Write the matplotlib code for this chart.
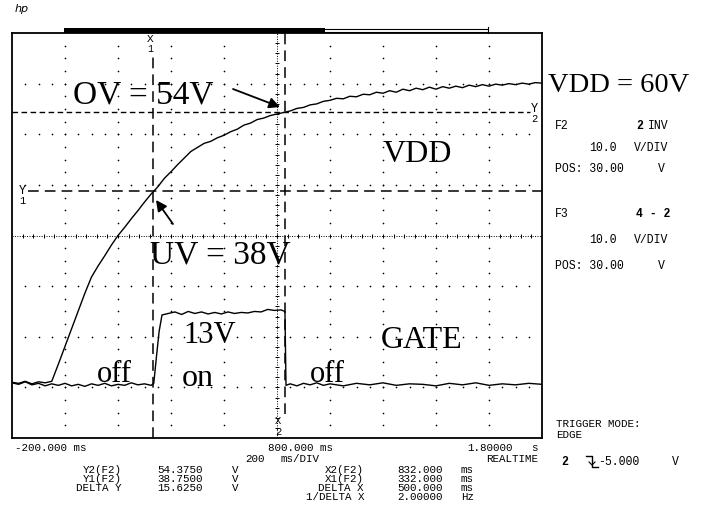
import matplotlib
matplotlib.use('Agg')
import matplotlib.pyplot as plt
from matplotlib.patches import Rectangle
from matplotlib.lines import Line2D
import numpy as np

W, H = 701, 515

# scope settings
t_left, t_right = -200, 1800        # ms, 200 ms/DIV
v_bottom, v_top = -10, 70           # V, 10 V/DIV, POS 30 V
t_div, v_div = 200, 10

# cursor readouts
x1_ms, x2_ms = 332.0, 832.0
y1_v, y2_v = 38.75, 54.375

# VDD trace (ms, V)
vdd_t = [-200, -175, -150, -125, -100, -75, -50, -25, 0, 25, 50, 75, 100,
         125, 150, 175, 200, 225, 250, 275, 300, 325, 350, 375, 400, 425,
         450, 475, 500, 525, 550, 575, 600, 625, 650, 675, 700, 725, 750,
         775, 800, 825, 850, 875, 900, 925, 950, 975, 1000, 1025, 1050,
         1075, 1100, 1125, 1150, 1175, 1200, 1225, 1250, 1275, 1300, 1325,
         1350, 1375, 1400, 1425, 1450, 1475, 1500, 1525, 1550, 1575, 1600,
         1625, 1650, 1675, 1700, 1725, 1750, 1775, 1800]
vdd_v = [1.0, 0.8, 1.2, 0.7, 1.1, 0.9, 1.2, 4.6, 8.1, 11.6, 15.1, 18.6, 21.8,
         24.0, 26.0, 28.1, 30.0, 31.6, 33.3, 34.9, 36.6, 38.2, 39.6, 41.3,
         42.6, 44.0, 45.3, 46.6, 47.4, 48.2, 48.6, 49.3, 49.8, 50.5, 51.0,
         51.8, 52.2, 52.9, 53.2, 53.7, 54.0, 54.3, 54.6, 55.1, 55.3, 55.8,
         56.0, 56.5, 56.7, 57.1, 57.0, 57.5, 57.4, 57.9, 57.8, 58.3, 58.1,
         58.6, 58.3, 58.9, 58.6, 59.1, 58.8, 59.3, 58.9, 59.4, 59.1, 59.5,
         59.2, 59.7, 59.4, 59.8, 59.5, 59.9, 59.7, 60.0, 59.8, 60.1, 59.9,
         60.2, 60.1]

# GATE trace (ms, V)
gate_t = [-200, -175, -150, -125, -100, -75, -50, -25, 0, 25, 50, 75, 100,
          125, 150, 175, 200, 225, 250, 275, 300, 325, 335, 345, 355, 366,
          390, 415, 440, 465, 490, 515, 540, 565, 590, 615, 640, 665, 690,
          715, 740, 765, 790, 815, 830, 834, 850, 875, 900, 925, 950, 975,
          1000, 1050, 1100, 1150, 1200, 1250, 1300, 1350, 1400, 1450, 1500,
          1550, 1600, 1650, 1700, 1750, 1800]
gate_v = [0.9, 0.6, 1.1, 0.5, 0.8, 0.3, 0.7, 0.4, 0.8, 0.3, 0.6, 0.2, 0.7,
          0.4, 0.8, 0.3, 0.6, 0.4, 0.9, 0.5, 0.7, 0.4, 0.8, 6.0, 11.0, 14.3,
          14.6, 14.9, 14.4, 15.0, 14.6, 14.9, 14.5, 14.8, 14.5, 14.9, 14.6,
          14.8, 14.7, 15.0, 14.9, 15.4, 15.2, 15.3, 15.0, 0.4, 0.7, 0.3, 0.8,
          0.5, 0.9, 0.4, 0.7, 0.3, 0.8, 0.5, 0.9, 0.4, 0.7, 0.6, 0.3, 0.8,
          0.5, 0.9, 0.4, 0.7, 0.5, 0.8, 0.6]

# readout table under the screen
left_names = ['Y2(F2)', 'Y1(F2)', 'DELTA Y']
left_vals = ['54.3750', '38.7500', '15.6250']
right_names = ['X2(F2)', 'X1(F2)', 'DELTA X', '1/DELTA X']
right_vals = ['832.000', '332.000', '500.000', '2.00000']
right_units = ['ms', 'ms', 'ms', 'Hz']


def fx(x):
    return x / W


def fy(y):
    return 1 - y / H


fig = plt.figure(figsize=(W / 100, H / 100), dpi=100)
fig.patch.set_facecolor('white')

# screen area in pixels: x 12..542, y 33..438
ax = fig.add_axes([fx(12), fy(438), (542 - 12) / W, (438 - 33) / H])
ax.set_xlim(t_left, t_right)
ax.set_ylim(v_bottom, v_top)
ax.set_xticks([])
ax.set_yticks([])
for s in ax.spines.values():
    s.set_linewidth(1.3)
    s.set_color('black')

# dotted graticule
t_major = np.arange(t_left + t_div, t_right, t_div)
v_major = np.arange(v_bottom + v_div, v_top, v_div)
t_mid = (t_left + t_right) / 2
v_mid = (v_bottom + v_top) / 2
v_dots = np.arange(v_bottom, v_top + 0.1, v_div / 4)[1:-1]
t_dots = np.arange(t_left, t_right + 1, t_div / 4)[1:-1]
for t in t_major:
    if t == t_mid:
        continue
    ax.plot(np.full_like(v_dots, t), v_dots, ls='none', marker='o',
            ms=1.2, mfc='black', mec='none')
for v in v_major:
    if v == v_mid:
        continue
    ax.plot(t_dots, np.full_like(t_dots, v), ls='none', marker='o',
            ms=1.2, mfc='black', mec='none')

# centre axes with minor ticks
ax.axhline(v_mid, color='black', lw=0.7, ls=(0, (1, 1.5)))
ax.axvline(t_mid, color='black', lw=0.7, ls=(0, (1, 1.5)))
tick_t = np.arange(t_left, t_right + 1, t_div / 5)[1:-1]
tick_v = np.arange(v_bottom, v_top + 0.1, v_div / 5)[1:-1]
ax.plot(tick_t, np.full_like(tick_t, v_mid), ls='none', marker='|',
        ms=3, mew=0.7, color='black')
ax.plot(np.full_like(tick_v, t_mid), tick_v, ls='none', marker='_',
        ms=3, mew=0.7, color='black')

# cursors
ax.plot([x1_ms, x1_ms], [v_bottom, 65.5], color='black', lw=1.1,
        ls=(0, (7, 4)))
ax.plot([x2_ms, x2_ms], [-5.3, v_top], color='black', lw=1.1,
        ls=(0, (7, 4)))
ax.plot([-140, t_right], [y1_v, y1_v], color='black', lw=1.1,
        ls=(0, (7, 4)))
ax.plot([t_left, 1755], [y2_v, y2_v], color='black', lw=1.0,
        ls=(0, (4, 2.5)))

# traces
ax.plot(vdd_t, vdd_v, color='black', lw=1.0)
ax.plot(gate_t, gate_v, color='black', lw=1.0)

# cursor labels
mono = 'Liberation Mono'
fig.text(fx(150), fy(39), 'X', family=mono, fontsize=8, ha='center', va='center')
fig.text(fx(150), fy(49.5), '1', family=mono, fontsize=7, ha='center', va='center')
fig.text(fx(278), fy(421), 'X', family=mono, fontsize=7.5, ha='center', va='center')
fig.text(fx(278), fy(432), '2', family=mono, fontsize=7.5, ha='center', va='center')
fig.text(fx(22), fy(191), 'Y', family=mono, fontsize=8.5, ha='center', va='center')
fig.text(fx(22), fy(201), '1', family=mono, fontsize=7.5, ha='center', va='center')
fig.text(fx(534), fy(109), 'Y', family=mono, fontsize=8.5, ha='center', va='center')
fig.text(fx(534), fy(119), '2', family=mono, fontsize=7.5, ha='center', va='center')

# hand-written style annotations
serif = 'Liberation Serif'
fig.text(fx(73), fy(103), 'OV = 54V', family=serif, fontsize=24, va='baseline')
fig.text(fx(548), fy(92), 'VDD = 60V', family=serif, fontsize=20.5, va='baseline')
fig.text(fx(383), fy(162), 'VDD', family=serif, fontsize=23, va='baseline')
fig.text(fx(150), fy(263), 'UV = 38V', family=serif, fontsize=24, va='baseline')
fig.text(fx(183), fy(343), '13V', family=serif, fontsize=22, va='baseline')
fig.text(fx(182), fy(386), 'on', family=serif, fontsize=23, va='baseline')
fig.text(fx(97), fy(382), 'off', family=serif, fontsize=22, va='baseline')
fig.text(fx(310), fy(382), 'off', family=serif, fontsize=22, va='baseline')
fig.text(fx(381), fy(348), 'GATE', family=serif, fontsize=23, va='baseline')

arrow = dict(arrowstyle='-|>', lw=1.3, color='black', mutation_scale=16,
             shrinkA=0, shrinkB=0)
ax.annotate('', xy=(280, H - 107), xytext=(233, H - 89),
            xycoords='figure pixels', textcoords='figure pixels',
            arrowprops=arrow)
ax.annotate('', xy=(156, H - 200), xytext=(173, H - 224),
            xycoords='figure pixels', textcoords='figure pixels',
            arrowprops=arrow)

# record-length bar above the screen
fig.add_artist(Rectangle((fx(64), fy(33)), (325 - 64) / W, 5 / H,
                         transform=fig.transFigure, color='black', lw=0))
for yy in (29, 32):
    fig.add_artist(Line2D([fx(325), fx(488)], [fy(yy), fy(yy)],
                          transform=fig.transFigure, color='black', lw=0.8))
fig.add_artist(Line2D([fx(488), fx(488)], [fy(27), fy(33)],
                      transform=fig.transFigure, color='black', lw=0.8))

fig.text(fx(15), fy(9), 'hp', fontsize=8, style='italic', va='center')

# readouts below the screen
fs = 7.8
def txt(x, y, s, ha='left', size=fs, **kw):
    fig.text(fx(x), fy(y), s, family=mono, fontsize=size, ha=ha, va='center', **kw)

txt(15, 448, '-200.000 ms')
txt(268, 448, '800.000 ms')
txt(513, 448, '1.80000', ha='right')
txt(531, 448, 's')
txt(245, 459, '200')
txt(281, 459, 'ms/DIV')
txt(538, 459, 'REALTIME', ha='right')

rows = [470, 479, 488, 497]
for i, (n, v) in enumerate(zip(left_names, left_vals)):
    txt(122, rows[i], n, ha='right')
    txt(157, rows[i], v)
    txt(232, rows[i], 'V')
for i, (n, v, u) in enumerate(zip(right_names, right_vals, right_units)):
    txt(364, rows[i], n, ha='right')
    txt(397, rows[i], v)
    txt(461, rows[i], u)

# channel panel
ps = 8.3
txt(555, 126, 'F2', size=ps)
txt(636, 126, '2', size=ps, weight='bold')
txt(648, 126, 'INV', size=ps)
txt(589, 148, '10.0', size=ps)
txt(634, 148, 'V/DIV', size=ps)
txt(555, 169, 'POS: 30.00', size=ps)
txt(658, 169, 'V', size=ps)
txt(555, 214, 'F3', size=ps)
txt(636, 214, '4 - 2', size=ps, weight='bold')
txt(589, 240, '10.0', size=ps)
txt(634, 240, 'V/DIV', size=ps)
txt(555, 266, 'POS: 30.00', size=ps)
txt(658, 266, 'V', size=ps)

txt(556, 424, 'TRIGGER MODE:', size=7.8)
txt(556, 435, 'EDGE', size=7.8)
txt(561, 462, '2', size=ps, weight='bold')
txt(598, 462, '-5.000', size=ps)
txt(672, 462, 'V', size=ps)
fig.add_artist(Line2D([fx(586), fx(592), fx(592), fx(598)],
                      [fy(456), fy(456), fy(467), fy(467)],
                      transform=fig.transFigure, color='black', lw=1.0))
fig.add_artist(Line2D([fx(589), fx(592), fx(595)],
                      [fy(462), fy(465), fy(462)],
                      transform=fig.transFigure, color='black', lw=0.8))

fig.savefig('out.png', dpi=100, facecolor='white')
